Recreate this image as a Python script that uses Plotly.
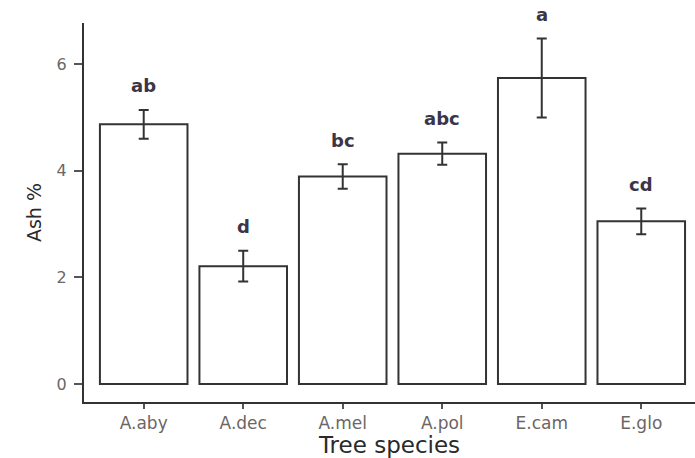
import plotly.graph_objects as go

species = ["A.aby", "A.dec", "A.mel", "A.pol", "E.cam", "E.glo"]
ash_mean = [4.87, 2.21, 3.89, 4.32, 5.74, 3.05]
ash_se = [0.27, 0.29, 0.23, 0.21, 0.74, 0.24]
letters = ["ab", "d", "bc", "abc", "a", "cd"]
y_ticks = [0, 2, 4, 6]

FONT = "DejaVu Sans, Arial"

fig = go.Figure()
fig.add_trace(go.Bar(
    x=species, y=ash_mean,
    width=0.88,
    marker=dict(color="white", line=dict(color="#333333", width=2)),
    error_y=dict(type="data", array=ash_se, visible=True,
                 color="#333333", thickness=2, width=5),
    showlegend=False,
    hoverinfo="skip",
))

for s, m, e, l in zip(species, ash_mean, ash_se, letters):
    fig.add_annotation(x=s, y=m + e, text="<b>" + l + "</b>", showarrow=False,
                       yshift=24, font=dict(family=FONT, size=18, color="#3b3548"))

fig.update_layout(
    width=695, height=458,
    margin=dict(l=84, r=0, t=23, b=56),
    plot_bgcolor="white", paper_bgcolor="white",
    xaxis=dict(
        range=[-0.6, 5.54],
        showline=True, linecolor="#333333", linewidth=2,
        ticks="outside", ticklen=5, tickcolor="#555555", tickwidth=1.5,
        tickfont=dict(family=FONT, size=17, color="#6b6666"),
        title=dict(text="Tree species", standoff=3,
                   font=dict(family=FONT, size=23, color="#2a2a2a")),
        showgrid=False,
    ),
    yaxis=dict(
        range=[-0.3375, 6.77],
        tickvals=y_ticks,
        showline=True, linecolor="#333333", linewidth=2,
        ticks="outside", ticklen=8, tickcolor="#555555", tickwidth=1.5,
        ticklabelstandoff=4,
        tickfont=dict(family=FONT, size=16, color="#6b6666"),
        title=dict(text="Ash %", standoff=10,
                   font=dict(family=FONT, size=19, color="#2a2a2a")),
        showgrid=False, zeroline=False,
    ),
)

fig.write_html("out.html", config={"displayModeBar": False},
               post_script="document.body.style.margin='0px';")
